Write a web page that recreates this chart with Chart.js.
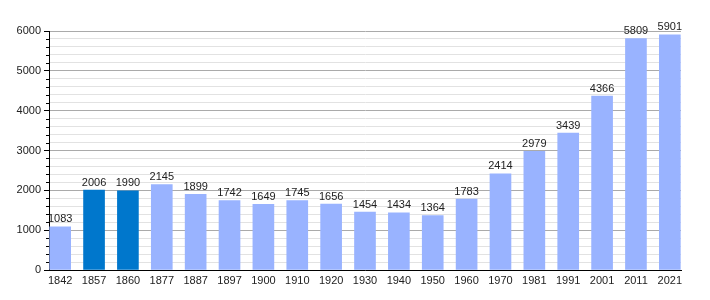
<!DOCTYPE html>
<html>
<head>
<meta charset="utf-8">
<script src="https://cdn.jsdelivr.net/npm/chart.js@4"></script>
<style>
  html, body { margin: 0; padding: 0; background: #fff; }
  #wrap { width: 710px; height: 300px; }
</style>
</head>
<body>
<div id="wrap"><canvas id="chart"></canvas></div>
<script>
const years = [1842, 1857, 1860, 1877, 1887, 1897, 1900, 1910, 1920, 1930, 1940, 1950, 1960, 1970, 1981, 1991, 2001, 2011, 2021];
const population = [1083, 2006, 1990, 2145, 1899, 1742, 1649, 1745, 1656, 1454, 1434, 1364, 1783, 2414, 2979, 3439, 4366, 5809, 5901];
const highlighted = [1857, 1860];

const FONT = 'Liberation Sans, Arial, sans-serif';

// value labels on top of bars
const barLabels = {
    id: 'barLabels',
    afterDatasetsDraw(chart) {
        const ctx = chart.ctx;
        ctx.save();
        ctx.font = '11px ' + FONT;
        ctx.fillStyle = '#222';
        ctx.textAlign = 'center';
        ctx.textBaseline = 'bottom';
        chart.getDatasetMeta(0).data.forEach((bar, i) => {
            ctx.fillText(String(population[i]), bar.x, bar.y - 2);
        });
        ctx.restore();
    }
};

// short minor ticks on the y axis
const minorTicks = {
    id: 'minorTicks',
    afterDraw(chart) {
        const y = chart.scales.y;
        const ctx = chart.ctx;
        ctx.save();
        ctx.strokeStyle = '#000';
        ctx.lineWidth = 1;
        y.ticks.forEach(t => {
            if (t.value % 1000 === 0) return;
            const py = Math.round(y.getPixelForValue(t.value)) + 0.5;
            ctx.beginPath();
            ctx.moveTo(y.right - 3, py);
            ctx.lineTo(y.right, py);
            ctx.stroke();
        });
        ctx.restore();
    }
};

new Chart(document.getElementById('chart').getContext('2d'), {
    type: 'bar',
    data: {
        datasets: [{
            data: population.map((v, i) => ({ x: i, y: v })),
            backgroundColor: ctx => highlighted.includes(years[ctx.dataIndex]) ? '#0077cc' : '#99b3ff',
            barThickness: 21
        }]
    },
    plugins: [barLabels, minorTicks],
    options: {
        responsive: true,
        maintainAspectRatio: false,
        animation: false,
        layout: { padding: { top: 31, right: 29, left: 0, bottom: 0 } },
        plugins: { legend: { display: false }, tooltip: { enabled: false } },
        scales: {
            x: {
                type: 'linear',
                offset: false,
                min: -0.33,
                max: years.length - 1 + 0.33,
                afterBuildTicks: s => { s.ticks = years.map((_, i) => ({ value: i })); },
                afterFit: s => { s.height = 30; },
                grid: { display: false, drawTicks: false, offset: false },
                border: { color: '#000', width: 1 },
                ticks: {
                    autoSkip: false,
                    maxRotation: 0,
                    padding: 4,
                    color: '#222',
                    font: { family: FONT, size: 11 },
                    callback: v => years[v]
                }
            },
            y: {
                min: 0,
                max: 6000,
                afterFit: s => { s.width = 49; },
                grid: {
                    color: c => c.tick.value % 1000 === 0 ? '#aaaaaa' : '#e2e2e2',
                    tickColor: c => c.tick.value % 1000 === 0 ? '#000' : 'rgba(0,0,0,0)',
                    tickLength: 5
                },
                border: { color: '#000', width: 1 },
                ticks: {
                    stepSize: 200,
                    autoSkip: false,
                    padding: 3,
                    color: '#222',
                    font: { family: FONT, size: 11 },
                    callback: v => v % 1000 === 0 ? String(v) : ''
                }
            }
        }
    }
});
</script>
</body>
</html>
